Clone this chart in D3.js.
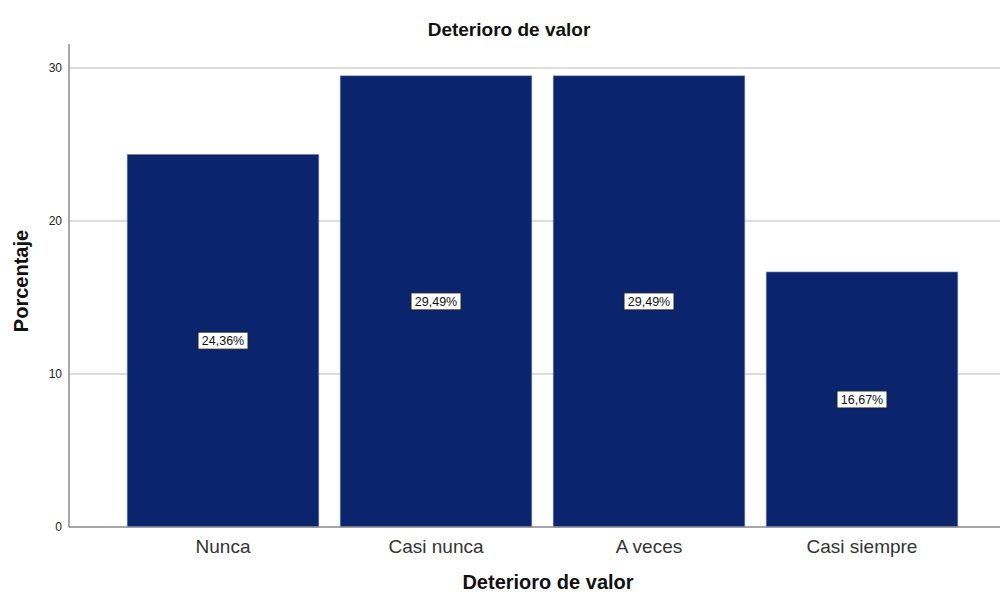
<!DOCTYPE html>
<html><head><meta charset="utf-8">
<script src="https://cdn.jsdelivr.net/npm/d3@7"></script>
<style>body{margin:0;background:#fff;}svg{display:block;font-family:Arial,"Liberation Sans",sans-serif;}</style>
</head><body><svg id="c" width="1001" height="595"></svg>
<script>
const categories = ["Nunca", "Casi nunca", "A veces", "Casi siempre"];
const values = [24.36, 29.49, 29.49, 16.67];
const labels = ["24,36%", "29,49%", "29,49%", "16,67%"];
const yTicks = [0, 10, 20, 30];

const svg = d3.select("#c");
const x0 = 69, x1 = 1000, yBase = 527, yTop = 44;
const x = d3.scaleBand().domain(categories).range([116.5, 968.5]).paddingInner(0.1).paddingOuter(0.05);
const y = d3.scaleLinear().domain([0, 30]).range([yBase, 68]);

// gridlines
svg.selectAll("line.grid").data(yTicks.filter(d => d > 0)).enter().append("line")
  .attr("x1", x0).attr("x2", x1).attr("y1", d => y(d)).attr("y2", d => y(d))
  .attr("stroke", "#d2d2d2").attr("stroke-width", 1.5);

// bars
svg.selectAll("rect.bar").data(values).enter().append("rect")
  .attr("x", (d, i) => x(categories[i])).attr("width", x.bandwidth())
  .attr("y", d => y(d)).attr("height", d => yBase - y(d))
  .attr("fill", "#0a256e").attr("stroke", "#8a9ac0").attr("stroke-width", 0.6);

// axes lines
svg.append("line").attr("x1", x0).attr("x2", x0).attr("y1", yTop).attr("y2", yBase)
  .attr("stroke", "#888").attr("stroke-width", 1.5);
svg.append("line").attr("x1", x0).attr("x2", x1).attr("y1", yBase).attr("y2", yBase)
  .attr("stroke", "#888").attr("stroke-width", 1.5);

// y tick labels
svg.selectAll("text.yt").data(yTicks).enter().append("text")
  .attr("x", x0 - 7).attr("y", d => y(d)).attr("dy", "0.35em")
  .attr("text-anchor", "end").attr("font-size", 12).attr("fill", "#222").text(d => d);

// x category labels
svg.selectAll("text.xt").data(categories).enter().append("text")
  .attr("x", d => x(d) + x.bandwidth() / 2).attr("y", 553)
  .attr("text-anchor", "middle").attr("font-size", 19).attr("fill", "#333").text(d => d);

// value labels
const g = svg.selectAll("g.lab").data(values).enter().append("g")
  .attr("transform", (d, i) => `translate(${x(categories[i]) + x.bandwidth() / 2},${y(d / 2)})`);
g.append("rect").attr("x", -25).attr("y", -8.5).attr("width", 50).attr("height", 17)
  .attr("fill", "#fff").attr("stroke", "#222").attr("stroke-width", 1);
g.append("text").attr("text-anchor", "middle").attr("dy", "0.36em")
  .attr("font-size", 12.5).attr("fill", "#111").text((d, i) => labels[i]);

// titles
svg.append("text").attr("x", 509).attr("y", 36).attr("text-anchor", "middle")
  .attr("font-size", 19).attr("font-weight", "bold").attr("fill", "#111").text("Deterioro de valor");
svg.append("text").attr("x", 548).attr("y", 589).attr("text-anchor", "middle")
  .attr("font-size", 20).attr("font-weight", "bold").attr("fill", "#111").text("Deterioro de valor");
svg.append("text").attr("transform", "translate(28,281) rotate(-90)").attr("text-anchor", "middle")
  .attr("font-size", 20).attr("font-weight", "bold").attr("fill", "#111").text("Porcentaje");
</script></body></html>
